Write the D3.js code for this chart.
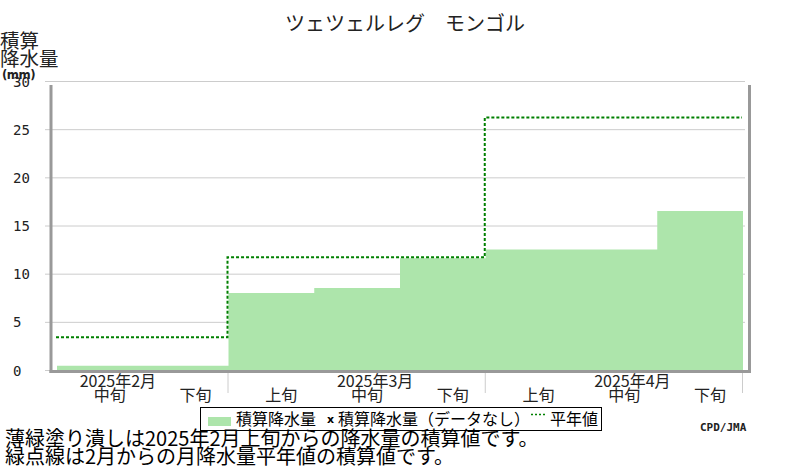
<!DOCTYPE html>
<html lang="ja">
<head>
  <meta charset="UTF-8">
  <title>ツェツェルレグ モンゴル</title>
  <style>
    body {
      margin: 0;
      background: #fff;
    }
    svg {
      display: block;
      font-family: "Noto Sans CJK JP", sans-serif;
    }
    .grid line {
      stroke: #ccc;
    }
    .grid text {
      font-family: "DejaVu Sans Mono", monospace;
      font-size: 14px;
      fill: #222;
    }
    .frame {
      stroke: #999;
      stroke-width: 3;
    }
    .sep {
      stroke: #ccc;
    }
    .xlab {
      font-size: 16px;
      text-anchor: middle;
      fill: #222;
    }
    .precip {
      fill: #ade5ab;
    }
    .normal {
      fill: none;
      stroke: #008000;
      stroke-width: 2;
      stroke-dasharray: 3, 2;
    }
  </style>
</head>
<body>
  <svg id="chart" width="800" height="470"></svg>

  <script src="https://cdn.jsdelivr.net/npm/d3@7"></script>
  <script>
    // dekads (旬) shown on the chart
    var dekads = ["2月中旬", "2月下旬", "3月上旬", "3月中旬", "3月下旬", "4月上旬", "4月中旬", "4月下旬"];
    var dekadLabels = ["中旬", "下旬", "上旬", "中旬", "下旬", "上旬", "中旬", "下旬"];
    var monthOf = [0, 0, 1, 1, 1, 2, 2, 2];
    var months = ["2025年2月", "2025年3月", "2025年4月"];
    var monthMid = [0, 3, 6];  // index of 中旬 for each month

    // accumulated precipitation (mm) and accumulated normal (mm)
    var precip = [0.45, 0.45, 8.0, 8.5, 11.6, 12.5, 12.5, 16.5];
    var normal = [3.4, 3.4, 11.7, 11.7, 11.7, 26.2, 26.2, 26.2];
    var yTicks = [0, 5, 10, 15, 20, 25, 30];

    var svg = d3.select("#chart");

    var x = d3.scaleBand()
      .domain(dekads)
      .range([57, 743])
      .paddingInner(0)
      .paddingOuter(0);
    var bw = x.bandwidth();

    var y = d3.scaleLinear()
      .domain([0, 30])
      .range([370, 81]);

    // gridlines + y labels
    var grid = svg.append("g")
      .attr("class", "grid")
      .attr("transform", "translate(45,0)")
      .call(d3.axisRight(y).tickValues(yTicks).tickSize(700).tickFormat(d3.format("d")));
    grid.select(".domain").remove();
    grid.selectAll("text")
      .attr("x", 13 - 45)
      .attr("dy", "0.36em")
      .attr("text-anchor", "start");

    // step points, one at each dekad start plus the end
    function steps(vals) {
      var pts = vals.map(function(v, i) { return [x(dekads[i]), v]; });
      pts.push([x(dekads[dekads.length - 1]) + bw, vals[vals.length - 1]]);
      return pts;
    }

    var area = d3.area()
      .curve(d3.curveStepAfter)
      .x(function(d) { return d[0]; })
      .y0(y(0))
      .y1(function(d) { return y(d[1]); });

    svg.append("path")
      .attr("class", "precip")
      .attr("d", area(steps(precip)));

    var line = d3.line()
      .curve(d3.curveStepAfter)
      .x(function(d) { return d[0] - 1; })
      .y(function(d) { return y(d[1]); });

    svg.append("path")
      .attr("class", "normal")
      .attr("d", line(steps(normal)));

    // frame
    svg.append("line").attr("class", "frame")
      .attr("x1", 51).attr("y1", 85).attr("x2", 51).attr("y2", 373);
    svg.append("line").attr("class", "frame")
      .attr("x1", 749.5).attr("y1", 85).attr("x2", 749.5).attr("y2", 373);
    svg.append("line").attr("class", "frame")
      .attr("x1", 49.5).attr("y1", 371.5).attr("x2", 751).attr("y2", 371.5);

    // month separators below the axis
    var sepX = [];
    monthOf.forEach(function(m, i) {
      if (i > 0 && m !== monthOf[i - 1]) sepX.push(x(dekads[i]));
    });
    sepX.push(x(dekads[dekads.length - 1]) + bw);
    svg.selectAll(".sep")
      .data(sepX)
      .enter().append("line")
      .attr("class", "sep")
      .attr("x1", function(d) { return d - 0.5; })
      .attr("x2", function(d) { return d - 0.5; })
      .attr("y1", 373)
      .attr("y2", 393);

    // dekad labels
    svg.selectAll(".dlab")
      .data(dekads)
      .enter().append("text")
      .attr("class", "xlab dlab")
      .attr("x", function(d) { return x(d) + bw / 2 + 10; })
      .attr("y", 401)
      .text(function(d, i) { return dekadLabels[i]; });

    // month labels
    svg.selectAll(".mlab")
      .data(months)
      .enter().append("text")
      .attr("class", "xlab mlab")
      .attr("x", function(d, i) { return x(dekads[monthMid[i]]) + bw / 2 + 18; })
      .attr("y", 387)
      .text(function(d) { return d; });

    // title
    svg.append("text")
      .attr("x", 405)
      .attr("y", 31)
      .attr("text-anchor", "middle")
      .attr("font-size", 20)
      .attr("fill", "#222")
      .text("ツェツェルレグ　モンゴル");

    // y axis title
    svg.append("text").attr("x", 0).attr("y", 48).attr("font-size", 19.5).attr("fill", "#222").text("積算");
    svg.append("text").attr("x", 0).attr("y", 66).attr("font-size", 19.5).attr("fill", "#222").text("降水量");
    svg.append("text").attr("x", 2).attr("y", 79)
      .attr("font-size", 13).attr("font-weight", "bold").attr("letter-spacing", -0.5)
      .attr("font-family", "DejaVu Sans Condensed, sans-serif").attr("fill", "#222")
      .text("(mm)");

    // legend
    var lg = svg.append("g");
    lg.append("rect")
      .attr("x", 200.5).attr("y", 407.5).attr("width", 401).attr("height", 23)
      .attr("fill", "#fff").attr("stroke", "#000");
    lg.append("rect")
      .attr("class", "precip")
      .attr("x", 208).attr("y", 417).attr("width", 23).attr("height", 9);
    lg.append("text").attr("x", 236).attr("y", 425).attr("font-size", 16).text("積算降水量");
    lg.append("text").attr("x", 327).attr("y", 423)
      .attr("font-size", 11).attr("font-weight", "bold")
      .attr("font-family", "DejaVu Sans, sans-serif").text("x");
    lg.append("text").attr("x", 338).attr("y", 425).attr("font-size", 16).text("積算降水量（データなし）");
    lg.append("line")
      .attr("x1", 531).attr("x2", 546).attr("y1", 414.5).attr("y2", 414.5)
      .attr("stroke", "#008000").attr("stroke-width", 1.5).attr("stroke-dasharray", "2,2");
    lg.append("text").attr("x", 550).attr("y", 425).attr("font-size", 16).text("平年値");

    svg.append("text")
      .attr("x", 700).attr("y", 431)
      .attr("font-size", 11).attr("font-weight", "bold")
      .attr("font-family", "DejaVu Sans Mono, monospace").attr("fill", "#222")
      .text("CPD/JMA");

    // notes
    svg.append("text").attr("x", 5).attr("y", 446).attr("font-size", 20)
      .text("薄緑塗り潰しは2025年2月上旬からの降水量の積算値です。");
    svg.append("text").attr("x", 5).attr("y", 464).attr("font-size", 20)
      .text("緑点線は2月からの月降水量平年値の積算値です。");
  </script>
</body>
</html>
